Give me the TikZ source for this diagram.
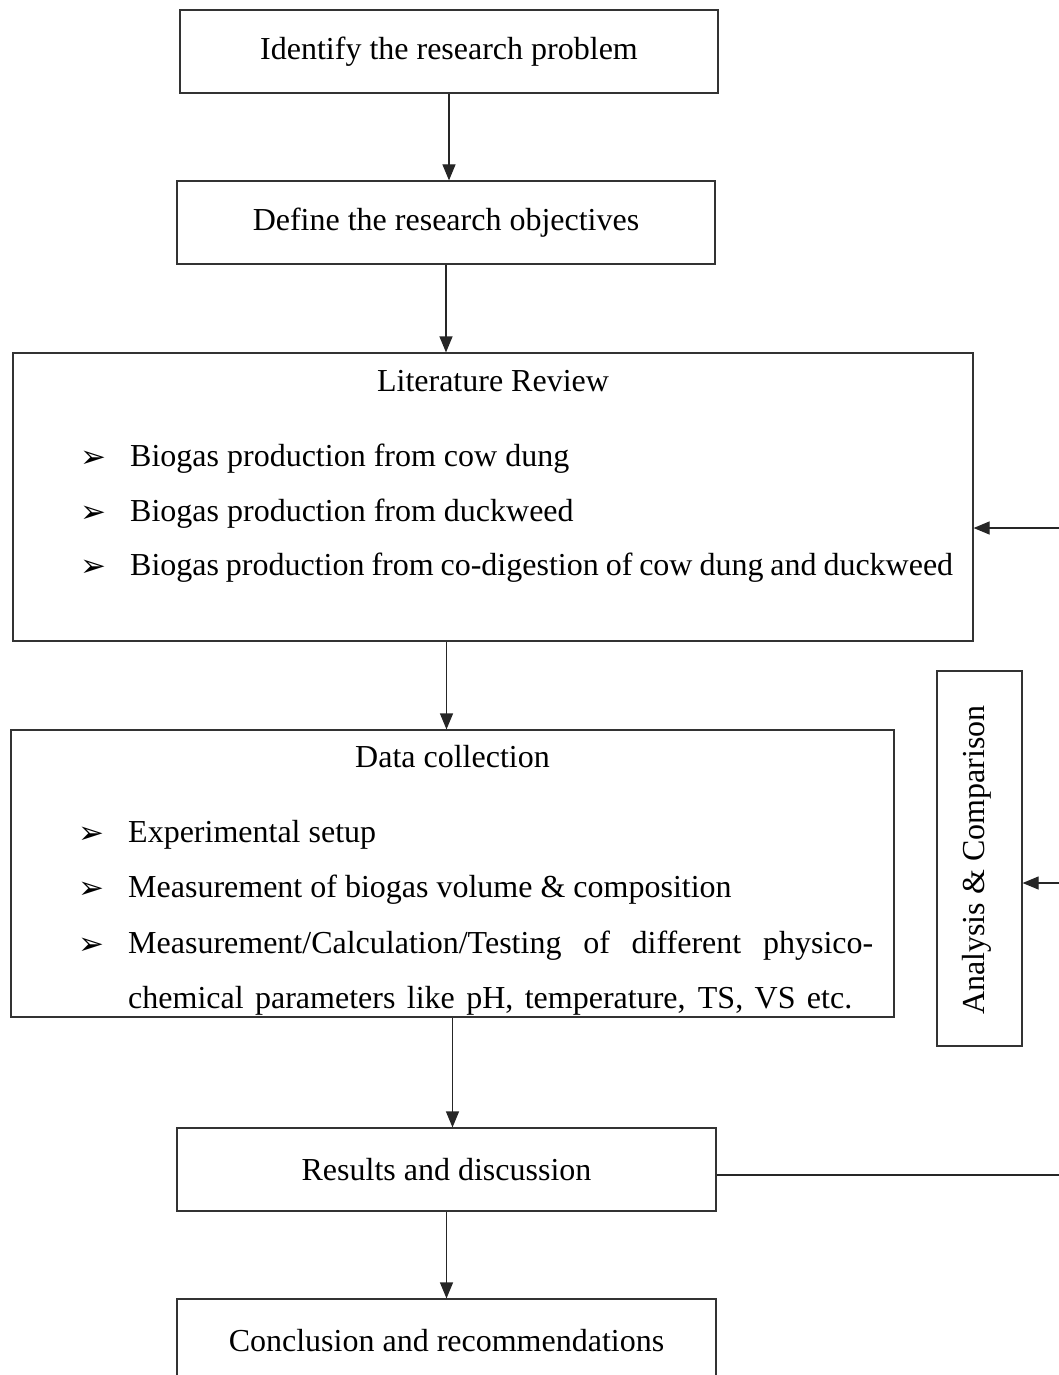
\documentclass[tikz,border=0pt]{standalone}
\usepackage{fontspec}
\setmainfont{Liberation Serif}
\newfontfamily\dingfont{DejaVu Sans}
\usetikzlibrary{arrows.meta}
\begin{document}
\begin{tikzpicture}[x=1pt,y=-1pt,
  box/.style={draw=black!80, line width=1.2pt, inner sep=0pt, font=\fontsize{32}{38}\selectfont},
  ln/.style={line width=1.2pt, draw=black!85},
  arr/.style={ln, -{Triangle[length=16pt,width=13pt]}},
  txt/.style={inner sep=0pt, text height=22pt, text depth=7pt, font=\fontsize{32}{38}\selectfont},
  bul/.style={inner sep=0pt, font=\dingfont\fontsize{31}{34}\selectfont},
]
\useasboundingbox (0,0) rectangle (1059,1375);
% boxes
\node[box, minimum width=538pt, minimum height=83pt] (b1) at (449,51.5) {Identify the research problem};
\node[box, minimum width=538pt, minimum height=83pt] (b2) at (446,222.5) {Define the research objectives};
\node[box, minimum width=960pt, minimum height=288pt] (b3) at (493,497) {};
\node[box, minimum width=883pt, minimum height=287pt] (b4) at (452.5,873.5) {};
\node[box, minimum width=539pt, minimum height=83pt] (b5) at (446.5,1169.5) {Results and discussion};
\node[box, minimum width=539pt, minimum height=83pt] (b6) at (446.5,1340.5) {Conclusion and recommendations};
\node[box, minimum width=85pt, minimum height=375pt] (ana) at (979.5,858.5) {};
\node[txt, rotate=90] (anat) at (977,860) {Analysis \& Comparison};
% literature review text
\node[txt] (lt) at (493,384) {Literature Review};
\node[bul] (l1b) at (93,459) {➢};
\node[txt, anchor=west] (l1) at (130,459) {Biogas production from cow dung};
\node[bul] (l2b) at (93,514) {➢};
\node[txt, anchor=west] (l2) at (130,514) {Biogas production from duckweed};
\node[bul] (l3b) at (93,568) {➢};
\node[txt, anchor=west] (l3) at (130,568) {\makebox[823pt][s]{Biogas production from co-digestion of cow dung and duckweed}};
% data collection text
\node[txt] (dt) at (452.5,760) {Data collection};
\node[bul] (d1b) at (91,835) {➢};
\node[txt, anchor=west] (d1) at (128,835) {Experimental setup};
\node[bul] (d2b) at (91,890) {➢};
\node[txt, anchor=west] (d2) at (128,890) {Measurement of biogas volume \& composition};
\node[bul] (d3b) at (91,946) {➢};
\node[txt, anchor=west] (d3) at (128,946) {\makebox[745pt][s]{Measurement/Calculation/Testing of different physico-}};
\node[txt, anchor=west] (d4) at (128,1001) {\makebox[724pt][s]{chemical parameters like pH, temperature, TS, VS etc.}};
% main arrows
\draw[arr] (b1.south) -- (b1.south |- b2.north);
\draw[arr] (b2.south) -- (b2.south |- b3.north);
\draw[arr] (b5.north |- b3.south) -- (b5.north |- b4.north);
\draw[arr] (b4.south) -- (b4.south |- b5.north);
\draw[arr] (b5.south) -- (b6.north);
% feedback
\coordinate (fb) at (1080,1175);
\draw[ln] (b5.east |- fb) -- (fb) -- (fb |- 0,528);
\draw[arr] (fb |- 0,528) -- (b3.east |- 0,528);
\draw[arr] (fb |- 0,883) -- (ana.east |- 0,883);
\end{tikzpicture}
\end{document}
